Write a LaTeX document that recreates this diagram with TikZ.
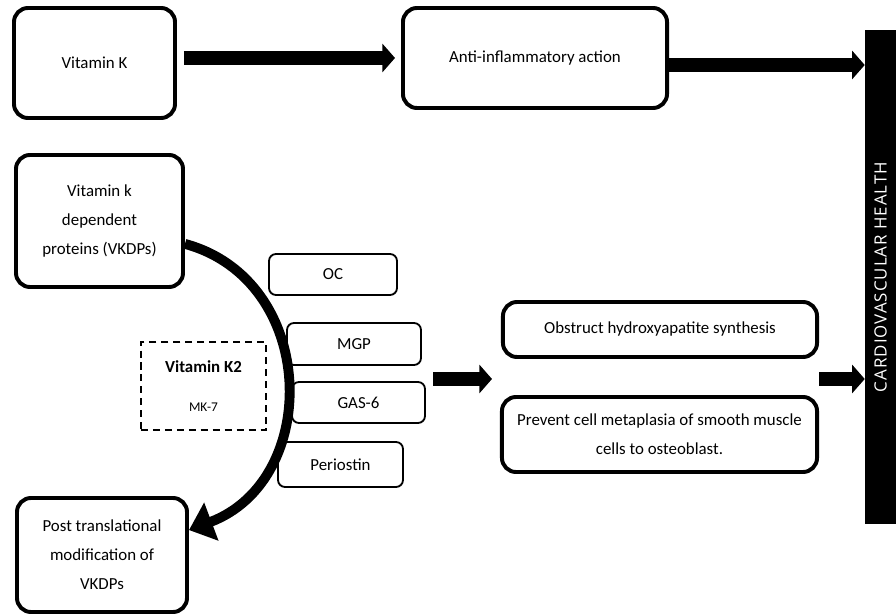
\documentclass[tikz,border=0pt]{standalone}
\usepackage{fontspec}
\setmainfont{Carlito}
\newfontfamily\barfont[LetterSpace=6]{Open Sans}
\usepackage{tikz}
\usetikzlibrary{arrows.meta,positioning}
\newcommand{\boxfont}{\fontsize{12}{20.5}\selectfont}
\tikzstyle{bigbox} = [rectangle, rounded corners=10pt, draw=black, line width=2.8pt, inner sep=0pt, align=center, font=\boxfont]
\tikzstyle{protein} = [rectangle, rounded corners=5pt, draw=black, line width=1.3pt, inner sep=0pt, align=center, font=\boxfont]
\tikzstyle{fatarrow} = [line width=10pt, -{Triangle[length=9pt,width=20pt]}]

\begin{document}
\begin{tikzpicture}[x=0.025cm, y=-0.025cm]
\useasboundingbox (0,0) rectangle (896,615);
% Top row
\node[bigbox, minimum width=4.025cm, minimum height=2.75cm] (vitk) at (94.5,63) {Vitamin K};
\node[bigbox, minimum width=6.6cm, minimum height=2.5cm] (anti) at (535,58) {Anti-inflammatory action};

% Outcome bar
\node[fill=black, minimum width=0.775cm, minimum height=12.35cm, inner sep=0pt] (cvh) at (880.5,277) {};
\node[rotate=90, text=white, font=\barfont\fontsize{12}{14}\selectfont] (cvhlabel) at (cvh.center) {CARDIOVASCULAR\ HEALTH};

% Carboxylation loop
\node[bigbox, minimum width=4.175cm, minimum height=3.3cm] (vkdp) at (99.5,221) {Vitamin k\\dependent\\proteins (VKDPs)};
\node[bigbox, minimum width=4.25cm, minimum height=2.85cm] (post) at (102,555) {Post translational\\modification of\\VKDPs};
\draw[line width=7pt, -{Triangle[length=17pt,width=28pt]}] (vkdp.-15) .. controls (318,280) and (322,480) .. (post.16);
\node[draw, dashed, dash pattern=on 5pt off 3.5pt, line width=1.2pt, minimum width=3.125cm, minimum height=2.2cm, inner sep=0pt, align=center, font=\boxfont] (k2) at (203.5,386) {\textbf{Vitamin K2}\\[7pt]{\fontsize{9.5}{11}\selectfont MK-7}};

% Proteins
\node[protein, minimum width=3.2cm, minimum height=1.025cm] (oc) at (333,274.5) {OC};
\node[protein, minimum width=3.35cm, minimum height=1.05cm] (mgp) at (354,344) {MGP};
\node[protein, minimum width=3.325cm, minimum height=1.025cm] (gas) at (358.5,402.5) {GAS-6};
\node[protein, minimum width=3.125cm, minimum height=1.125cm] (peri) at (340.5,464.5) {Periostin};

% Effects
\node[bigbox, minimum width=7.85cm, minimum height=1.375cm] (obs) at (660,329.5) {Obstruct hydroxyapatite synthesis};
\node[bigbox, minimum width=7.875cm, minimum height=1.875cm] (prev) at (659.5,434.5) {Prevent cell metaplasia of smooth muscle\\cells to osteoblast.};

% Arrows
\draw[fatarrow, shorten <=0.175cm, shorten >=0.15cm] (vitk.east |- anti.west) -- (anti.west);
\draw[fatarrow] ([yshift=-0.175cm]anti.east) -- ([yshift=-0.175cm]anti.east -| cvh.west);
\coordinate (split) at (433,379);
\draw[fatarrow, shorten >=0.2cm] (split) -- (split -| prev.west);
\draw[fatarrow] (split -| prev.east) -- (split -| cvh.west);
\end{tikzpicture}
\end{document}
